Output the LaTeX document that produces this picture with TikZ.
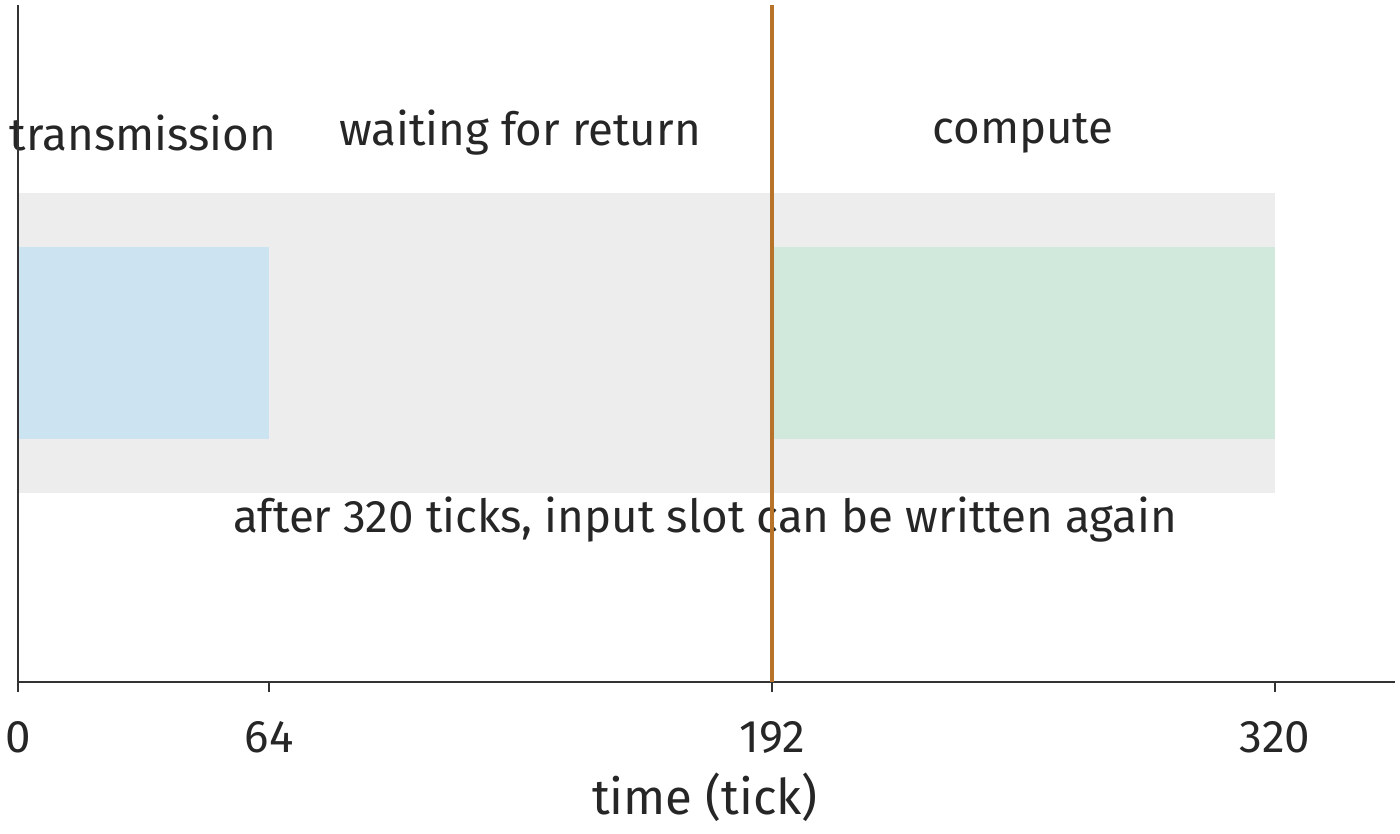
\documentclass[tikz,border=0pt]{standalone}
\usepackage{fontspec}
\setmainfont{Fira Sans}
\begin{document}
\begin{tikzpicture}[x=0.02cm,y=-0.02cm,
  lbl/.style={font=\fontsize{26}{30}\selectfont, text=black!85, inner sep=0},
  ax/.style={line width=1.3pt, black!80}]
\useasboundingbox (0,0) rectangle (1400,833);
\fill[black!7] (18,193) rectangle (1275,493);
\fill[fill={rgb,255:red,204;green,227;blue,242}] (18,247) rectangle (269,439);
\fill[fill={rgb,255:red,209;green,232;blue,220}] (772,247) rectangle (1275,439);
\node[lbl] (t1) at (143,133) {transmission};
\node[lbl] (t2) at (520,133) {waiting for return};
\node[lbl] (t3) at (1023,133) {compute};
\node[lbl] (t4) at (705,520) {after 320 ticks, input slot can be written again};
\draw[ax] (18,5) -- (18,682) -- (1395,682);
\foreach \x/\l in {18/0,269/64,772/192,1275/320}{
  \draw[ax] (\x,682) -- (\x,692);
  \node[lbl] (k\l) at (\x,737) {\l};
}
\node[lbl,font=\fontsize{28}{32}\selectfont] (xl) at (705,797) {time (tick)};
\draw[line width=2.2pt, color={rgb,255:red,184;green,115;blue,42}] (772,5) -- (772,682);
\end{tikzpicture}
\end{document}
